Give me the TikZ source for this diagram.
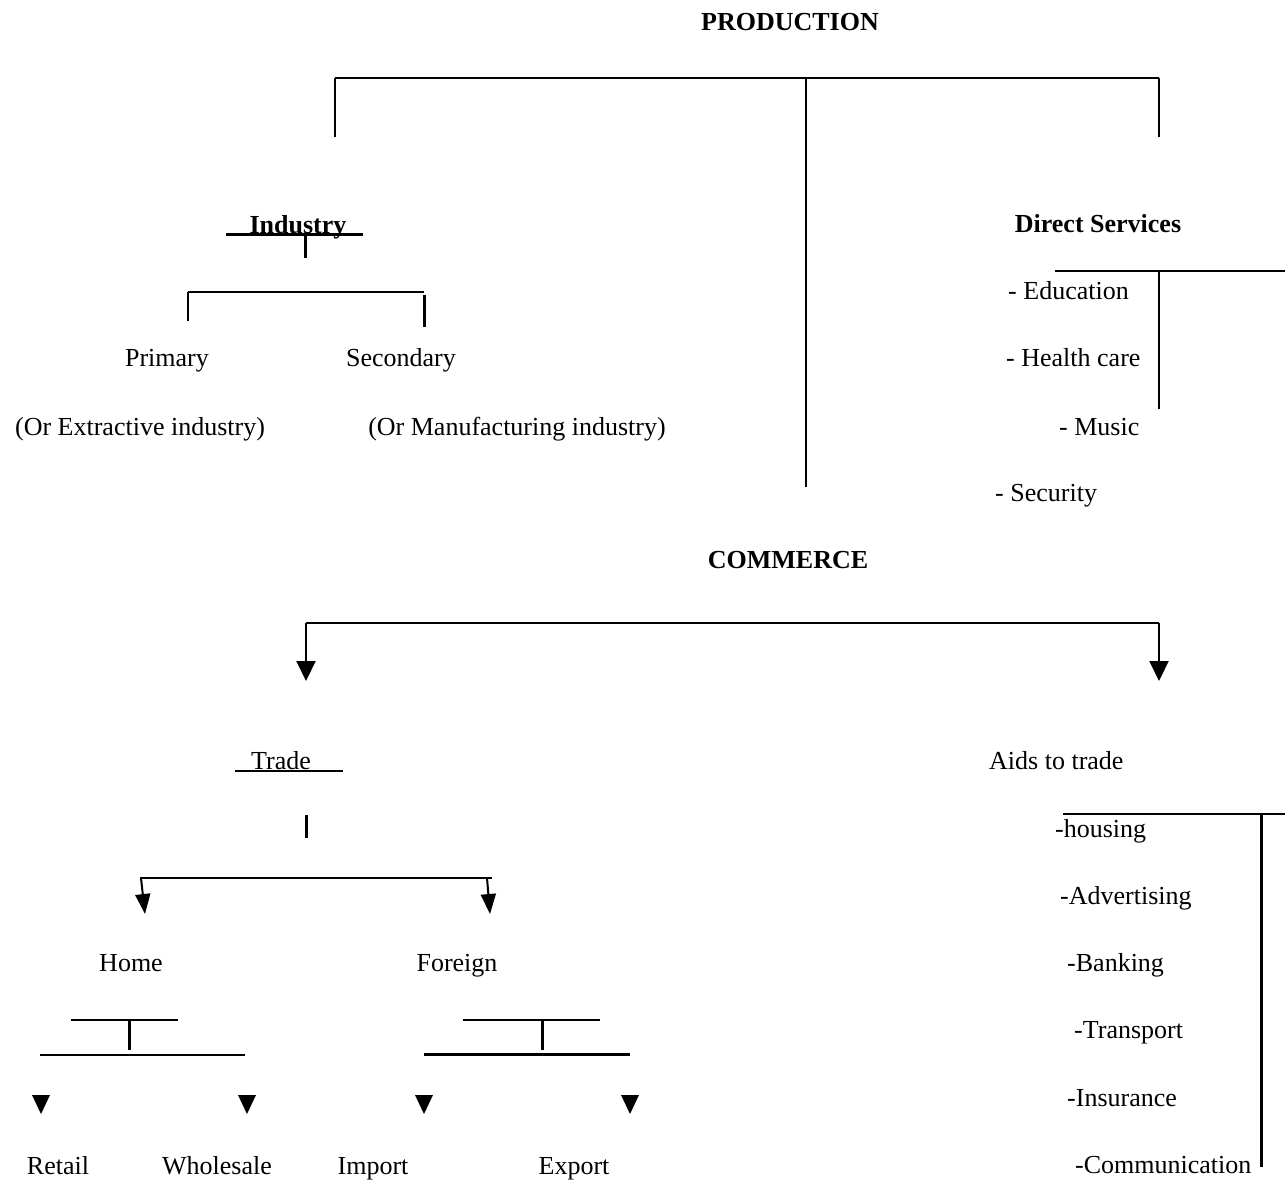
\documentclass[tikz,border=0pt]{standalone}
\usepackage{fontspec}
\setmainfont{Liberation Serif}
\usetikzlibrary{arrows.meta}
\begin{document}
\begin{tikzpicture}[x=1pt,y=-1pt,
  lbl/.style={inner sep=0pt, anchor=base, font=\fontsize{26}{28}\selectfont},
  blbl/.style={lbl, font=\fontsize{26}{28}\selectfont\bfseries},
  item/.style={lbl, anchor=base west},
  ln/.style={line width=2pt},
  thk/.style={line width=3pt},
  arr/.style={line width=2pt, -{Triangle[width=19pt,length=20pt]}},
  sarr/.style={line width=2pt, -{Triangle[width=15pt,length=20pt]}},
  tri/.style={fill=black}
]
\useasboundingbox (0,0) rectangle (1285,1181);

% ---------- PRODUCTION ----------
\node[blbl] (prod) at (790,30) {PRODUCTION};
\coordinate (pl) at (335,78); \coordinate (pm) at (806,78); \coordinate (pr) at (1159,78);
\draw[line width=2.5pt] (pl) -- (pr);
\draw[ln] (pl) -- (335,137);
\draw[line width=1.6pt] (pm) -- (806,487);
\draw[ln] (pr) -- (1159,137);

% Industry
\node[blbl] (industry) at (298,233) {Industry};
\draw[thk] (226,234) -- (363,234);
\draw[thk] (305,234) -- (305,258);
\draw[line width=2.5pt] (188,292) -- (424,292);
\draw[ln] (188,292) -- (188,321);
\draw[thk] (424,295) -- (424,327);
\node[lbl] (primary) at (167,366) {Primary};
\node[lbl] (secondary) at (401,366) {Secondary};
\node[lbl] (orext) at (140,435) {(Or Extractive industry)};
\node[lbl] (orman) at (517,435) {(Or Manufacturing industry)};

% Direct services
\node[blbl] (dserv) at (1098,232) {Direct Services};
\draw[line width=2.5pt] (1055,271) -- (1285,271);
\draw[ln] (1159,271) -- (1159,409);
\node[item] (edu) at (1008,299) {- Education};
\node[item] (health) at (1006,366) {- Health care};
\node[item] (music) at (1059,435) {- Music};
\node[item] (security) at (995,501) {- Security};

% ---------- COMMERCE ----------
\node[blbl] (commerce) at (788,568) {COMMERCE};
\coordinate (cl) at (306,623); \coordinate (cr) at (1159,623);
\draw[ln] (cl) -- (cr);
\draw[arr] (cl) -- (306,681);
\draw[arr] (cr) -- (1159,681);

% Trade
\node[lbl] (trade) at (281,769) {Trade};
\draw[line width=2.5pt] (235,771) -- (343,771);
\draw[thk] (306,815) -- (306,838);
\coordinate (tl) at (140,878); \coordinate (tr) at (492,878);
\draw[ln] (tl) -- (tr);
\draw[sarr] (141,878) -- (145,914);
\draw[sarr] (487,878) -- (490,914);
\node[lbl] (home) at (131,971) {Home};
\node[lbl] (foreign) at (457,971) {Foreign};

% Home T
\draw[line width=2.5pt] (71,1020) -- (178,1020);
\draw[thk] (129,1020) -- (129,1050);
\draw[line width=2.5pt] (40,1055) -- (245,1055);
% Foreign T
\draw[line width=2.5pt] (463,1020) -- (600,1020);
\draw[thk] (542,1020) -- (542,1050);
\draw[thk] (424,1054) -- (630,1054);

% triangles
\foreach \x in {41,247,424,630}{
  \fill[tri] (\x-9,1095) -- (\x+9,1095) -- (\x,1114) -- cycle;
}
\node[lbl] (retail) at (58,1174) {Retail};
\node[lbl] (wholesale) at (217,1174) {Wholesale};
\node[lbl] (import) at (373,1174) {Import};
\node[lbl] (export) at (574,1174) {Export};

% Aids to trade
\node[item] (aids) at (989,769) {Aids to trade};
\draw[line width=2.5pt] (1063,814) -- (1285,814);
\draw[thk] (1261,814) -- (1261,1167);
\node[item] (housing) at (1055,837) {-housing};
\node[item] (adv) at (1060,904) {-Advertising};
\node[item] (banking) at (1067,971) {-Banking};
\node[item] (transport) at (1074,1038) {-Transport};
\node[item] (insurance) at (1067,1106) {-Insurance};
\node[item] (comm) at (1075,1173) {-Communication};
\end{tikzpicture}
\end{document}
